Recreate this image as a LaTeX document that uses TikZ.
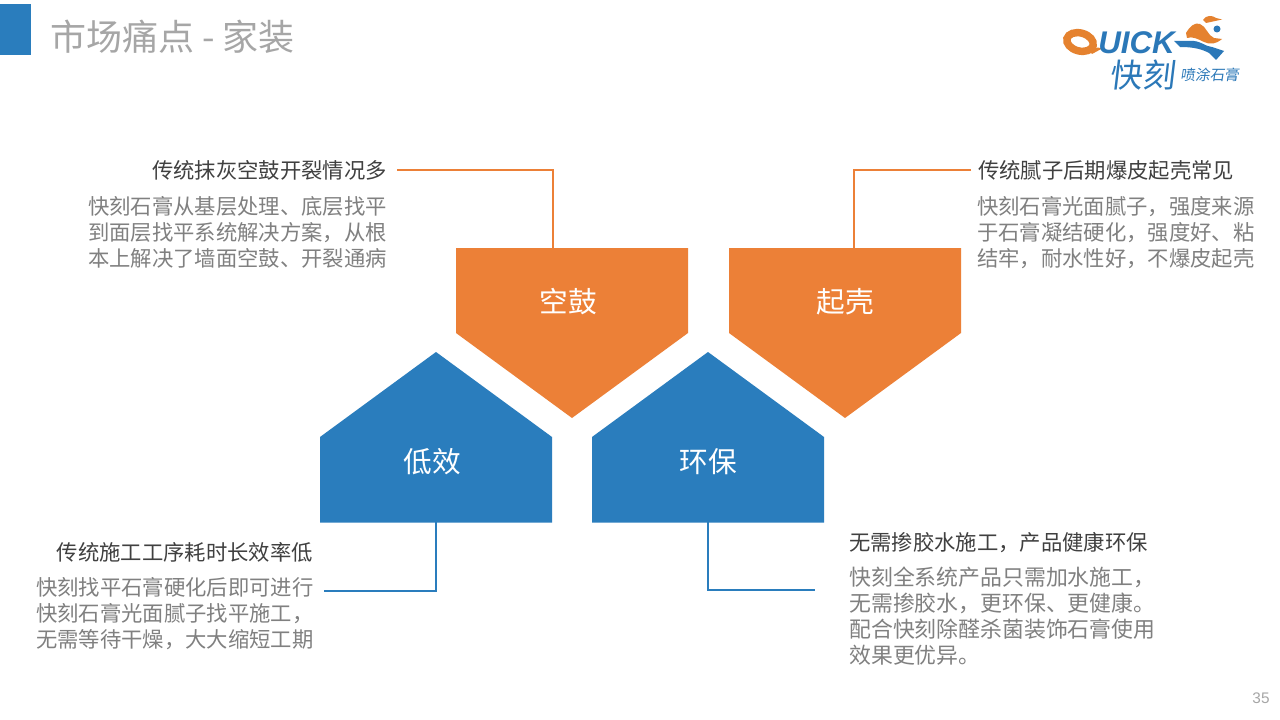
\documentclass[tikz,border=0pt]{standalone}
\usepackage{fontspec}
\setmainfont{Noto Sans CJK SC}
\newfontfamily\latinfont{Liberation Sans}
\definecolor{orangeM}{HTML}{EC8037}
\definecolor{blueM}{HTML}{2A7DBD}
\definecolor{headT}{HTML}{404040}
\definecolor{bodyT}{HTML}{808080}
\definecolor{titleT}{HTML}{A6A6A6}
\definecolor{logoB}{HTML}{2B78B8}
\definecolor{logoO}{HTML}{E5822F}
\tikzset{
  x=0.75pt,y=-0.75pt,
  pentlabel/.style={text=white,font=\fontsize{21.5}{24}\selectfont,inner sep=0pt},
  headtext/.style={text=headT,font=\fontsize{16}{20}\selectfont,inner sep=0pt},
  bodyR/.style={text=bodyT,font=\fontsize{16}{19.5}\selectfont,inner sep=0pt,align=right},
  bodyL/.style={text=bodyT,font=\fontsize{16}{19.5}\selectfont,inner sep=0pt,align=left},
  linkO/.style={draw=orangeM,line width=1.5pt},
  linkB/.style={draw=blueM,line width=1.5pt},
}
\begin{document}
\begin{tikzpicture}
\useasboundingbox (0,0) rectangle (1280,720);
\fill[white] (0,0) rectangle (1280,720);
% header
\fill[blueM] (0,4) rectangle (31,55);
\node[anchor=west,text=titleT,inner sep=0pt,font=\fontsize{27}{30}\selectfont] (title) at (50,37) {市场痛点 - 家装};
\node[text=titleT,inner sep=0pt,font=\latinfont\fontsize{11.5}{14}\selectfont] (page) at (1261,698) {35};
% logo
\draw[logoO,line width=5.6pt,rotate around={-15:(1080,42)}] (1080,42) ellipse [x radius=13.5,y radius=9];
\fill[logoO] (1086,47) -- (1103,48) -- (1092,54) -- cycle;
\node[anchor=west,text=logoB,inner sep=0pt,font=\latinfont\bfseries\itshape\fontsize{23.5}{26}\selectfont] (logoq) at (1098,42.5) {UICK};
\fill[logoO] (1186,33) .. controls (1190,26) and (1195,22) .. (1200,24) .. controls (1206,26) and (1208,36) .. (1214,38)
  -- (1222,39) .. controls (1216,44) and (1210,45) .. (1204,42) .. controls (1198,39) and (1192,36) .. (1187,38) -- cycle;
\fill[logoO] (1203,20) .. controls (1206,15) and (1212,15) .. (1216,18) -- (1222,19.5) -- (1206,23) -- cycle;
\fill[logoB] (1174,41) -- (1190,41) .. controls (1200,40) and (1206,47) .. (1212,47) -- (1224,51) -- (1216,60)
  -- (1209,53) .. controls (1200,48) and (1190,47) .. (1180,47) -- cycle;
\fill[logoB] (1217,29) circle (3.5);
\node[anchor=west,text=logoB,inner sep=0pt,xslant=0.12,font=\fontsize{24.5}{28}\selectfont] (logoc) at (1111,75) {快刻};
\node[anchor=west,text=logoB,inner sep=0pt,xslant=0.15,font=\fontsize{11}{13}\selectfont] (logos) at (1181,75) {喷涂石膏};
% pentagons
\fill[orangeM] (456,248) -- (688,248) -- (688,333) -- (572,418) -- (456,333) -- cycle;
\fill[orangeM] (729,248) -- (961,248) -- (961,333) -- (845,418) -- (729,333) -- cycle;
\fill[blueM] (436,352) -- (552,437) -- (552,522.5) -- (320,522.5) -- (320,437) -- cycle;
\fill[blueM] (708,352) -- (824,437) -- (824,522.5) -- (592,522.5) -- (592,437) -- cycle;
\node[pentlabel] (kg) at (568,302) {空鼓};
\node[pentlabel] (qk) at (845,302) {起壳};
\node[pentlabel] (dx) at (432,462) {低效};
\node[pentlabel] (hb) at (708,462) {环保};
% connector ends
\coordinate (kgtop) at (553,248);
\coordinate (kgend) at (397,170);
\coordinate (qktop) at (854,248);
\coordinate (qkend) at (971,170);
\coordinate (dxbot) at (436,522);
\coordinate (dxend) at (324,591);
\coordinate (hbbot) at (708,522);
\coordinate (hbend) at (815,590);
\draw[linkO] (kgend) -| (kgtop);
\draw[linkO] (qkend) -| (qktop);
\draw[linkB] (dxbot) |- (dxend);
\draw[linkB] (hbbot) |- (hbend);
% texts
\node[headtext,anchor=east] (h1) at (387,170) {传统抹灰空鼓开裂情况多};
\node[bodyR,anchor=north east] (b1) at (387,196) {快刻石膏从基层处理、底层找平\\到面层找平系统解决方案，从根\\本上解决了墙面空鼓、开裂通病};
\node[headtext,anchor=west] (h2) at (978,170) {传统腻子后期爆皮起壳常见};
\node[bodyL,anchor=north west] (b2) at (977,196) {快刻石膏光面腻子，强度来源\\于石膏凝结硬化，强度好、粘\\结牢，耐水性好，不爆皮起壳};
\node[headtext,anchor=east] (h3) at (313,552.5) {传统施工工序耗时长效率低};
\node[bodyR,anchor=north west,align=left] (b3) at (36,577) {快刻找平石膏硬化后即可进行\\快刻石膏光面腻子找平施工，\\无需等待干燥，大大缩短工期};
\node[headtext,anchor=west] (h4) at (849,542.5) {无需掺胶水施工，产品健康环保};
\node[bodyL,anchor=north west,font=\fontsize{16.4}{19.5}\selectfont] (b4) at (849,566.5) {快刻全系统产品只需加水施工，\\无需掺胶水，更环保、更健康。\\配合快刻除醛杀菌装饰石膏使用\\效果更优异。};
\end{tikzpicture}
\end{document}
